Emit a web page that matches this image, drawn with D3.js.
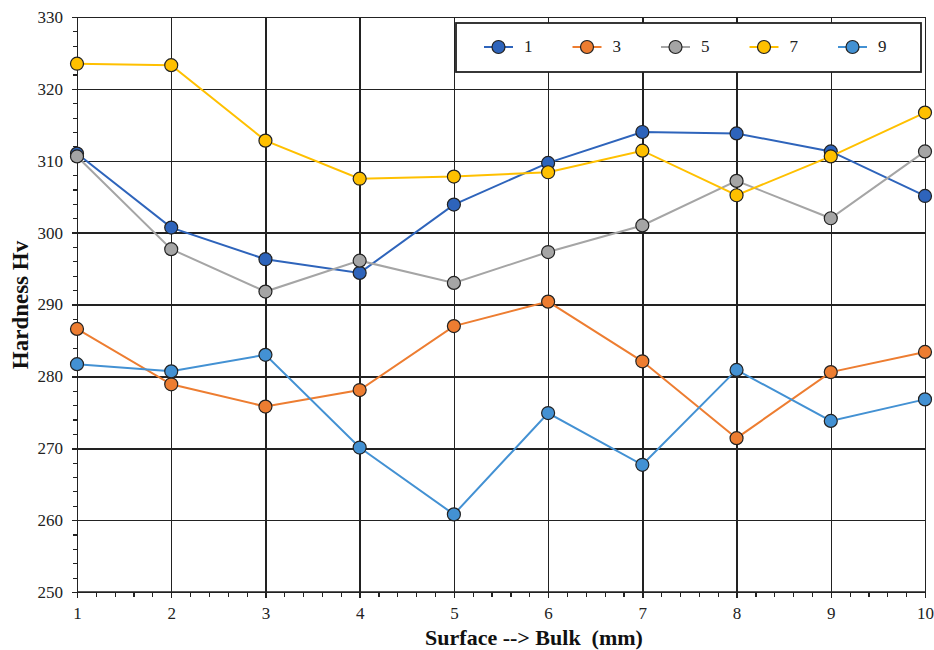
<!DOCTYPE html>
<meta charset="utf-8">
<style>
body { margin: 0; background: #fff; }
svg { font-family: "Liberation Serif", "Times New Roman", serif; }
.tick text { font-family: "Liberation Serif", "Times New Roman", serif; font-size: 17px; fill: #222; }
.grid line { stroke: #222; stroke-width: 1.5px; shape-rendering: crispEdges; }
.grid path { display: none; }
.axis path, .axis line { stroke: #222; stroke-width: 1.5px; shape-rendering: crispEdges; }
.minor line { stroke: #222; stroke-width: 1.2px; shape-rendering: crispEdges; }
.minor path { display: none; }
.series-line { fill: none; stroke-width: 2px; }
.axis-title { font-weight: bold; fill: #111; }
.legend text { font-size: 17px; fill: #222; }
</style>
<body>
<div id="chart"></div>
<script src="https://cdn.jsdelivr.net/npm/d3@7"></script>
<script>
// depth positions
var depth = [1, 2, 3, 4, 5, 6, 7, 8, 9, 10];
var seriesNames = ["1", "3", "5", "7", "9"];
var colors = ["#2e64bb", "#ed7d31", "#a5a5a5", "#ffc000", "#4391d3"];

// hardness values
var s1 = [311.0, 300.7, 296.3, 294.4, 303.9, 309.7, 314.0, 313.8, 311.3, 305.1];
var s3 = [286.6, 278.9, 275.8, 278.1, 287.0, 290.4, 282.1, 271.4, 280.6, 283.4];
var s5 = [310.6, 297.7, 291.8, 296.1, 293.0, 297.3, 301.0, 307.2, 302.0, 311.3];
var s7 = [323.5, 323.3, 312.8, 307.5, 307.8, 308.4, 311.4, 305.2, 310.6, 316.7];
var s9 = [281.7, 280.7, 283.0, 270.1, 260.8, 274.9, 267.7, 280.9, 273.8, 276.8];
var allSeries = [s1, s3, s5, s7, s9];

var yTicks = [250, 260, 270, 280, 290, 300, 310, 320, 330];

var W = 934, H = 650,
    margin = {top: 17, right: 9, bottom: 58, left: 77},
    width = W - margin.left - margin.right,
    height = H - margin.top - margin.bottom;

var svg = d3.select("#chart").append("svg")
    .attr("width", W).attr("height", H);
var g = svg.append("g")
    .attr("transform", "translate(" + margin.left + "," + margin.top + ")");

var x = d3.scaleLinear().domain([1, 10]).range([0, width]);
var y = d3.scaleLinear().domain([250, 330]).range([height, 0]);

// grid
g.append("g").attr("class", "grid")
  .call(d3.axisLeft(y).tickValues(yTicks).tickSize(-width).tickFormat(""));
g.append("g").attr("class", "grid")
  .attr("transform", "translate(0," + height + ")")
  .call(d3.axisBottom(x).tickValues(depth).tickSize(-height).tickFormat(""));

// minor ticks
g.append("g").attr("class", "minor")
  .call(d3.axisLeft(y).tickValues(d3.range(250, 331, 2)).tickSize(4).tickFormat(""));
g.append("g").attr("class", "minor")
  .attr("transform", "translate(0," + height + ")")
  .call(d3.axisBottom(x).tickValues(d3.range(1, 10.01, 0.2)).tickSize(5).tickFormat(""));

// axes
g.append("g").attr("class", "axis")
  .call(d3.axisLeft(y).tickValues(yTicks).tickSize(5).tickPadding(9));
var xAxis = g.append("g").attr("class", "axis")
  .attr("transform", "translate(0," + height + ")")
  .call(d3.axisBottom(x).tickValues(depth).tickSize(6).tickPadding(9));
xAxis.select(".domain").remove();
g.append("line").attr("x1", 0).attr("x2", width).attr("y1", height).attr("y2", height)
  .attr("stroke", "#222").attr("stroke-width", 1.5);

// series
var line = d3.line()
  .x(function(d, i) { return x(depth[i]); })
  .y(function(d) { return y(d); });

allSeries.forEach(function(vals, k) {
  var sg = g.append("g");
  sg.append("path").attr("class", "series-line")
    .attr("d", line(vals)).attr("stroke", colors[k]);
  sg.selectAll("circle").data(vals).enter().append("circle")
    .attr("cx", function(d, i) { return x(depth[i]); })
    .attr("cy", function(d) { return y(d); })
    .attr("r", 6.5)
    .attr("fill", colors[k])
    .attr("stroke", "#222").attr("stroke-width", 1.2);
});

// legend
var legend = svg.append("g").attr("class", "legend");
legend.append("rect")
  .attr("x", 456).attr("y", 23).attr("width", 465).attr("height", 49)
  .attr("fill", "#fff").attr("stroke", "#222").attr("stroke-width", 1.8);
seriesNames.forEach(function(name, k) {
  var lx = 484 + k * 88.5, ly = 47;
  legend.append("line").attr("x1", lx).attr("x2", lx + 29).attr("y1", ly).attr("y2", ly)
    .attr("stroke", colors[k]).attr("stroke-width", 2);
  legend.append("circle").attr("cx", lx + 14.5).attr("cy", ly).attr("r", 6.5)
    .attr("fill", colors[k]).attr("stroke", "#222").attr("stroke-width", 1.2);
  legend.append("text").attr("x", lx + 40).attr("y", ly + 5).text(name);
});

// axis titles
svg.append("text").attr("class", "axis-title")
  .attr("transform", "translate(28," + 305 + ") rotate(-90)")
  .attr("text-anchor", "middle").style("font-size", "23px").text("Hardness Hv");
svg.append("text").attr("class", "axis-title")
  .attr("x", 534).attr("y", 645).attr("text-anchor", "middle")
  .style("font-size", "22px").style("white-space", "pre")
  .text("Surface --> Bulk  (mm)");
</script>
</body>
